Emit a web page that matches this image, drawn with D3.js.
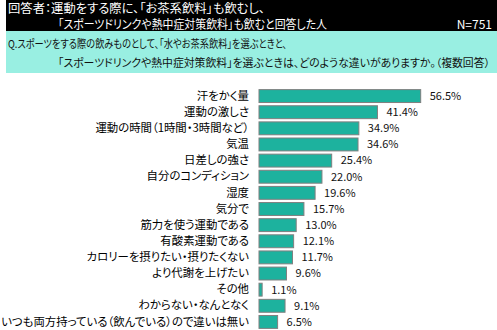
<!DOCTYPE html>
<html><head><meta charset="utf-8">
<script src="https://cdn.jsdelivr.net/npm/d3@7"></script>
<style>
body{margin:0;background:#fff;}
text{font-family:"Noto Sans CJK JP","Noto Sans",sans-serif;font-feature-settings:"palt";}
</style></head>
<body><svg id="c" width="497" height="330"></svg>
<script>
const categories = [
  "汗をかく量",
  "運動の激しさ",
  "運動の時間（1時間・3時間など）",
  "気温",
  "日差しの強さ",
  "自分のコンディション",
  "湿度",
  "気分で",
  "筋力を使う運動である",
  "有酸素運動である",
  "カロリーを摂りたい・摂りたくない",
  "より代謝を上げたい",
  "その他",
  "わからない・なんとなく",
  "いつも両方持っている（飲んでいる）ので違いは無い"
];
const values = [56.5, 41.4, 34.9, 34.6, 25.4, 22.0, 19.6, 15.7, 13.0, 12.1, 11.7, 9.6, 1.1, 9.1, 6.5];
const respondentLines = ["回答者：運動をする際に、「お茶系飲料」も飲むし、", "「スポーツドリンクや熱中症対策飲料」も飲むと回答した人"];
const sampleLabel = "N=751";
const questionLines = ["Q.スポーツをする際の飲みものとして、「水やお茶系飲料」を選ぶときと、", "「スポーツドリンクや熱中症対策飲料」を選ぶときは、どのような違いがありますか。（複数回答）"];

const svg = d3.select("#c");

// header boxes
svg.append("rect").attr("x",6).attr("y",0).attr("width",491).attr("height",31).attr("fill","#000");
svg.append("rect").attr("x",6).attr("y",31).attr("width",491).attr("height",42).attr("fill","#99EFE2");

function headerText(tx, ty, str, len, color, anchor, fs){
  const t = svg.append("text").attr("x",tx).attr("y",ty).attr("fill",color).attr("font-size",fs || 12)
    .attr("text-anchor", anchor || "start").text(str);
  if (len) t.attr("textLength", len).attr("lengthAdjust","spacingAndGlyphs");
  return t;
}
headerText(8, 13, respondentLines[0], 257, "#fff");
headerText(58, 29, respondentLines[1], 269, "#fff");
headerText(492, 29, sampleLabel, null, "#fff", "end");
headerText(8, 48, questionLines[0], 279, "#111", null, 10.9);
headerText(58, 67, questionLines[1], 432, "#111", null, 10.8);

const x0 = 259;
const x = d3.scaleLinear().domain([0, 60]).range([x0, x0 + 171.7]);
const y = d3.scaleBand().domain(categories).range([88, 330]).paddingInner(0.2).paddingOuter(0.1);

const rows = categories.map((c,i)=>({c, v: values[i]}));

svg.append("g").selectAll("rect").data(rows).join("rect")
  .attr("x", x(0)).attr("y", d=>y(d.c)).attr("width", d=>x(d.v)-x(0)).attr("height", y.bandwidth())
  .attr("fill","#1DB29E").attr("stroke","#7F7F7F").attr("stroke-width",1);

const axis = d3.axisLeft(y).tickSize(0).tickPadding(10);
const g = svg.append("g").attr("transform",`translate(${x0},0)`).call(axis);
g.select(".domain").remove();
g.selectAll("text").attr("font-size",11.4).attr("fill","#000")
  .style("font-family",'"Noto Sans CJK JP","Noto Sans",sans-serif');

svg.append("g").selectAll("text").data(rows).join("text")
  .attr("x", d=>x(d.v)+9).attr("y", d=>y(d.c)+y.bandwidth()/2).attr("dy","0.35em")
  .attr("font-size",11).attr("fill","#111").text(d=>d.v.toFixed(1)+"%");
</script></body></html>
